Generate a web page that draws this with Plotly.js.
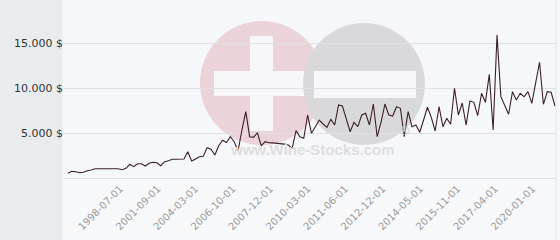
<!DOCTYPE html>
<html>
<head>
<meta charset="utf-8">
<script src="https://cdn.plot.ly/plotly-3.0.1.min.js"></script>
<style>html,body{margin:0;padding:0;background:#f7f8fa;}#chart{width:560px;height:240px;}</style>
</head>
<body>
<div id="chart"></div>
<script>
const prices = [
  520, 740, 700, 590, 630, 810, 890, 1030, 1030, 1030,
  1030, 1030, 1030, 1030, 920, 1080, 1520, 1260, 1590, 1590,
  1330, 1630, 1740, 1700, 1370, 1810, 1920, 2080, 2080, 2110,
  2110, 2920, 1890, 2110, 2370, 2410, 3370, 3190, 2560, 3590,
  4190, 3940, 4590, 4030, 3030, 5330, 7370, 4590, 4520, 5030,
  3560, 4030, 3920, 3900, 3870, 3830, 3760, 3670, 3300, 5260,
  4590, 4410, 7000, 4970, 5670, 6440, 6000, 5630, 6520, 5890,
  8110, 8000, 6560, 5140, 6190, 5700, 7000, 7190, 5890, 8220,
  4590, 6220, 8220, 7000, 6890, 7920, 7740, 4590, 7370, 5700,
  5890, 5080, 6440, 7860, 6740, 5220, 7920, 5700, 6630, 5970,
  9970, 7000, 8330, 5890, 8560, 8410, 6920, 9410, 8410, 11520,
  5330, 15890, 9030, 8060, 7080, 9590, 8670, 9410, 9030, 9590,
  8300, 10560, 12860, 8190, 9590, 9520, 8000
];
// Category tick labels shown along the x axis
const tickLabels = [
  "1998-07-01", "2001-09-01", "2004-03-01", "2006-10-01", "2007-12-01", "2010-03-01",
  "2011-06-01", "2012-12-01", "2014-05-01", "2015-11-01", "2017-04-01", "2020-01-01"
];
const yTickValues = [5000, 10000, 15000];
const yTickLabels = ["5.000 $", "10.000 $", "15.000 $"];

const idx = prices.map((_, i) => i);
const tickStart = 13.5, tickStep = 9.7;
const tickPos = tickLabels.map((_, i) => tickStart + i * tickStep);

// pixel -> paper helpers for decorations
const L = 64, R = 556, T = 0, B = 178;
const W = R - L, H = B - T;
const px = x => (x - L) / W;
const py = y => (B - y) / H;
function circle(cx, cy, r, color) {
  return {type: 'circle', xref: 'paper', yref: 'paper', layer: 'below',
    x0: px(cx - r), x1: px(cx + r), y0: py(cy + r), y1: py(cy - r),
    fillcolor: color, line: {width: 0}};
}
function rect(x0, y0, x1, y1, color) {
  return {type: 'rect', xref: 'paper', yref: 'paper', layer: 'below',
    x0: px(x0), x1: px(x1), y0: py(y1), y1: py(y0),
    fillcolor: color, line: {width: 0}};
}

const shapes = [
  rect(0, 0, 62.5, 240, '#e8ecef'),
  circle(262, 83, 62, '#ead3d9'),
  rect(214, 71, 310, 96, '#f7f7fa'),
  rect(250, 36, 273, 131, '#f7f7fa'),
  circle(364, 84, 61, '#d9d9db'),
  rect(314, 71, 416, 98, '#f7f7fa'),
  {type: 'line', xref: 'paper', yref: 'paper', x0: 1, x1: 1, y0: py(240), y1: 1,
    line: {color: '#e2e3e6', width: 1}}
];

const annotations = [
  {xref: 'paper', yref: 'paper', x: px(312), y: py(160), text: '<b>www.Wine-Stocks.com</b>',
    showarrow: false, font: {family: 'Liberation Sans, Arial, sans-serif', size: 15, color: '#dedede'}},
  {xref: 'paper', yref: 'paper', x: px(413), y: py(140), text: '®',
    showarrow: false, font: {family: 'DejaVu Sans', size: 13, color: '#cfcfcf'}}
];

const trace = {
  x: idx, y: prices, type: 'scatter', mode: 'lines',
  line: {color: '#3b2029', width: 1.1}, hoverinfo: 'none'
};

const layout = {
  width: 560, height: 240,
  margin: {l: L, r: 560 - R, t: T, b: 240 - B},
  paper_bgcolor: '#f7f8fa', plot_bgcolor: '#f6f7fa',
  showlegend: false,
  shapes: shapes, annotations: annotations,
  xaxis: {
    range: [-1.03, prices.length - 1 + 0.26],
    tickvals: tickPos, ticktext: tickLabels, tickangle: -45,
    showgrid: false, zeroline: false, showline: true, linecolor: '#dcdde0', linewidth: 1,
    ticks: '', tickfont: {family: 'DejaVu Sans', size: 10, color: '#9a9a9a'}
  },
  yaxis: {
    range: [0, 5000 * H / 45],
    tickvals: yTickValues, ticktext: yTickLabels,
    showgrid: true, gridcolor: '#e0e1e4', zeroline: false,
    ticks: '', tickfont: {family: 'DejaVu Sans', size: 11, color: '#333333'}
  }
};

Plotly.newPlot('chart', [trace], layout, {staticPlot: true, displayModeBar: false});
</script>
</body>
</html>
